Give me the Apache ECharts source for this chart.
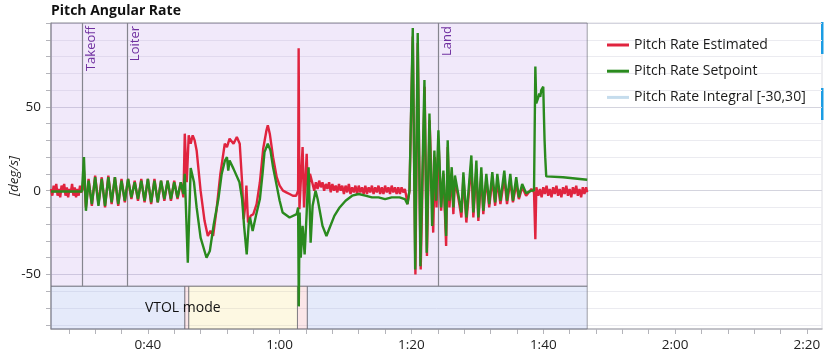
<!DOCTYPE html>
<html><head><meta charset="utf-8">
<script src="https://cdn.jsdelivr.net/npm/echarts@6/dist/echarts.min.js"></script>
<style>html,body{margin:0;padding:0;background:#fff}#c{width:827px;height:354px}</style>
</head><body><div id="c"></div>
<script>
const FONT = "'Open Sans', 'Noto Sans', sans-serif";
const titleText = 'Pitch Angular Rate';
const yAxisName = '[deg/s]';
const xRange = [25.3, 142.3];
const yRange = [-82.5, 100];
const xLabelTicks = [40, 60, 80, 100, 120, 140];
const xMinorTicks = [28,32,36,40,44,48,52,56,60,64,68,72,76,80,84,88,92,96,100,104,108,112,116,120,124,128,132,136,140];
const yLabelTicks = [-50, 0, 50];
const yGridTicks = [-80,-70,-60,-50,-40,-30,-20,-10,0,10,20,30,40,50,60,70,80,90,100];
const seriesNames = ['Pitch Rate Estimated', 'Pitch Rate Setpoint', 'Pitch Rate Integral [-30,30]'];
const eventNames = ['Takeoff', 'Loiter', 'Land'];
const eventTimes = [30.1, 36.8, 84.1];
const modeLabel = 'VTOL mode';
const modeStarts = [25.3, 45.6, 46.2, 62.7, 64.2];
const modeEnds = [45.6, 46.2, 62.7, 64.2, 106.67];
const modeKinds = ['mc', 'trans', 'fw', 'trans', 'mc'];
const bandTop = -57;
const dataEnd = 106.67;

const pitchEstimated = [
[25.3,1],[25.5,-3],[25.7,3],[25.9,-1],[26.1,4],[26.3,-3],[26.5,1],[26.7,-4],[26.9,3],[27.1,0],[27.3,4],[27.5,-3],[27.7,2],
[27.9,-4],[28.1,1],[28.3,-1],[28.5,4],[28.7,-3],[28.9,2],[29.1,-4],[29.3,1],[29.5,-3],[29.7,3],[29.9,-1],[30.1,1],
[30.3,12],[30.6,-10],[31.0,7],[31.5,-9],[32.0,9],[32.5,-8],[33.0,8],[33.5,-10],[34.0,9],[34.5,-8],[35.0,8],[35.5,-9],
[36.0,7],[36.5,-7],[37.0,7],[37.5,-5],[38.0,6],[38.5,-6],[39.0,7],[39.5,-7],[40.0,7],[40.5,-8],[41.0,7],[41.5,-7],
[42.0,6],[42.5,-6],[43.0,6],[43.5,-6],[44.0,6],[44.5,-5],[45.0,5],[45.4,-4],
[45.6,34],[45.9,5],[46.2,33],[46.5,28],[46.8,33],[47.1,30],[47.4,24],[48.0,0],[48.6,-18],[49.1,-27],[49.5,-24],[49.9,-27],
[50.4,-12],[51.0,10],[51.67,28],[52.0,26],[52.4,31],[53.0,28],[53.5,32],[53.94,28],[54.3,5],[54.55,-17],[54.8,-8],[54.95,3],
[55.2,-19],[55.6,-15],[56.0,-14],[56.5,-8],[57.0,5],[57.5,25],[58.0,36],[58.2,39],[58.5,34],[59.0,20],[59.55,8],[60.0,3],
[60.5,0],[61.0,-1],[61.5,-2],[62.0,-3],[62.5,-3],[62.8,0],[62.88,85],[63.0,-11],[63.2,5],[63.48,26],[63.7,-10],[64.1,22],
[64.3,-5],[64.6,10],
[65.0,4],[65.25,0],[65.5,5],[65.75,1],[66.0,6],[66.25,2],[66.5,5],[66.75,0],[67.0,4],[67.25,1],[67.5,5],[67.75,-1],[68.0,4],
[68.25,0],[68.5,3],[68.75,-1],[69.0,4],[69.25,0],[69.5,3],[69.75,-2],[70.0,3],[70.25,-1],[70.5,4],[70.75,-2],[71.0,2],
[71.25,-1],[71.5,3],[71.75,-2],[72.0,3],[72.25,-1],[72.5,2],[72.75,-2],[73.0,3],[73.25,-2],[73.5,2],[73.75,-1],[74.0,3],
[74.25,-2],[74.5,2],[74.75,-1],[75.0,3],[75.25,-2],[75.5,2],[75.75,-2],[76.0,3],[76.25,-1],[76.5,2],[76.75,-2],[77.0,3],
[77.25,-1],[77.5,2],[77.75,-2],[78.0,2],[78.25,-2],[78.5,2],[78.75,-1],[79.0,1],[79.2,-3],[79.4,-8],[79.7,0],
[80.2,92],[80.6,-50],[80.95,88],[81.4,-47],[82.0,62],[82.35,-39],[82.75,42],[83.3,-25],[83.55,20],[83.8,-10],[84.1,30],
[84.5,-12],[84.85,10],[85.26,-33],[85.5,26],[85.76,-10],[86.11,10],[86.36,-14],[86.6,6],[87.1,-4],[87.58,-16],[87.88,8],
[88.33,-19],[89.09,16],[89.39,-16],[89.85,13],[90.15,-18],[90.6,10],[90.9,-14],[91.36,7],[91.8,-10],[92.27,7],[92.7,-9],
[93.03,6],[93.5,-8],[94.09,7],[94.5,-8],[95.0,6],[95.4,-7],[95.9,4],[96.3,-5],[96.8,2],[97.4,-3],[98.2,1],[98.6,-1],
[98.8,-29],[98.95,2],[99.25,-3],[99.5,1],[99.75,-4],[100,2],[100.25,-2],[100.5,3],[100.75,-3],[101,1],[101.25,-4],
[101.5,2],[101.75,-2],[102,3],[102.25,-3],[102.5,1],[102.75,-4],[103,2],[103.25,-2],[103.5,3],[103.75,-3],[104,1],
[104.25,-4],[104.5,2],[104.75,-2],[105,3],[105.25,-3],[105.5,1],[105.75,-4],[106,2],[106.25,-2],[106.5,2],[106.67,-1]
];

const pitchSetpoint = [
[25.3,-0.5],[30.0,-0.5],[30.15,0],[30.3,20],[30.6,-12],[31.0,6],[31.5,-8],[32.0,8],[32.5,-9],[33.0,7],[33.5,-9],[34.0,8],
[34.5,-7],[35.0,8],[35.5,-8],[36.0,6],[36.5,-6],[37.0,7],[37.5,-4],[38.0,5],[38.5,-5],[39.0,6],[39.5,-6],[40.0,7],[40.5,-7],
[41.0,6],[41.5,-7],[42.0,6],[42.5,-5],[43.0,6],[43.5,-5],[44.0,5],[44.5,-4],[45.0,5],[45.4,-2],
[45.6,10],[46.06,-43],[46.5,13.5],[47.0,5],[47.4,-10],[48.0,-28],[48.9,-40],[49.4,-36],[50.0,-20],[50.7,-5],[51.2,10],
[51.7,18],[52.0,20],[52.2,12],[52.4,18],[53.0,13],[53.9,5],[54.3,-5],[54.6,-21],[55.0,-38],[55.3,-20],[55.5,-16],[55.9,-24],
[56.4,-15],[57.0,-5],[57.4,10],[57.7,23],[58.2,28],[58.6,24],[59.0,14],[59.55,3],[60.0,-6],[60.45,-13],[61.5,-16],[62.58,-14],
[62.8,-10],[62.9,-69],[63.03,-13],[63.2,-40],[63.48,-21],[63.79,-38],[64.09,-14],[64.39,14],[64.7,-31],[65.0,-9],[65.45,0],
[65.76,-5],[66.5,-21],[67.1,-27],[67.6,-22],[68.3,-15],[69.1,-10],[70,-6],[71,-3],[72,-2],[73,-3],[74,-4],[75,-4],[76,-5],
[77,-4],[78.2,-4],[79.0,-5],[79.4,-8],[79.7,0],
[80.2,97],[80.56,-47],[80.95,94],[81.36,-45],[81.97,66],[82.32,-37],[82.73,46],[83.14,-21],[83.48,24],[83.74,-6],[84.09,36],
[84.5,-10],[84.85,12],[85.26,-27],[85.5,30],[85.76,-6],[86.11,14],[86.36,-10],[86.6,9],[87.1,-2],[87.58,-13],[87.88,11],
[88.33,-16],[89.09,21],[89.39,-13],[89.85,18],[90.15,-16],[90.6,14],[90.9,-12],[91.36,10],[91.8,-8],[92.27,11],[92.7,-7],
[93.03,10],[93.5,-6],[94.09,12],[94.5,-6],[95.0,10],[95.4,-6],[95.9,8],[96.3,-4],[96.8,4],[97.4,-1.5],[98.2,0],[98.6,0],
[98.8,74],[98.94,52],[99.2,55],[99.39,58],[99.55,56],[99.7,60],[100.0,62],[100.1,45],[100.2,30],[100.3,20],[100.45,8.5],
[103,8],[106.67,6.5]
];

const pitchIntegral = [];

const modeColors = {
  mc: 'rgba(151,171,235,0.25)',
  trans: 'rgba(235,130,140,0.2)',
  fw: 'rgba(245,220,110,0.2)'
};

function fmtTime(v) {
  const m = Math.floor(v / 60), s = Math.round(v % 60);
  return m + ':' + String(s).padStart(2, '0');
}

const bandAreas = modeStarts.map((s, i) => [
  { coord: [s, yRange[0]], name: i === 1 ? modeLabel : '',
    itemStyle: { color: modeColors[modeKinds[i]] },
    label: { show: i === 1 } },
  { coord: [modeEnds[i], bandTop] }
]);

const flightArea = [[
  { coord: [pitchEstimated[0][0], bandTop], itemStyle: { color: 'rgba(185,145,230,0.2)' }, label: { show: false } },
  { coord: [dataEnd, yRange[1]] }
]];

const eventLines = eventNames.map((n, i) => [
  { coord: [eventTimes[i], bandTop], name: n },
  { coord: [eventTimes[i], yRange[1]] }
]);

const chart = echarts.init(document.getElementById('c'), null, { renderer: 'canvas' });
chart.setOption({
  animation: false,
  backgroundColor: '#fff',
  textStyle: { fontFamily: FONT },
  title: {
    text: titleText, left: 46, top: -1,
    textStyle: { fontFamily: FONT, fontSize: 14, fontWeight: 'bold', color: '#111' }
  },
  legend: {
    orient: 'vertical', left: 607, top: 38, padding: 0,
    icon: 'rect', itemWidth: 22, itemHeight: 3, itemGap: 12.2, itemTextGap: 6,
    textStyle: { fontFamily: FONT, fontSize: 14, color: '#1a1a1a' },
    data: seriesNames
  },
  grid: {
    left: 51, right: 5, top: 23, bottom: 25,
    outerBoundsMode: 'none', containLabel: false,
    show: true, borderColor: '#dcdce2', borderWidth: 1, backgroundColor: '#fff'
  },
  xAxis: {
    type: 'value', min: xRange[0], max: xRange[1],
    axisLine: { show: true, onZero: false, lineStyle: { color: '#b4b4ba', width: 1.5 } },
    axisTick: { show: true, length: 5, customValues: xMinorTicks, lineStyle: { color: '#b4b4ba' } },
    axisLabel: { customValues: xLabelTicks, formatter: fmtTime, margin: 9,
      fontFamily: FONT, fontSize: 13.5, color: '#222' },
    splitLine: { show: false }
  },
  yAxis: {
    type: 'value', min: yRange[0], max: yRange[1],
    name: yAxisName, nameLocation: 'middle', nameGap: 30, nameRotate: 90, nameMoveOverlap: false,
    nameTextStyle: { fontFamily: FONT, fontSize: 13.5, fontStyle: 'italic', color: '#222' },
    axisLine: { show: true, lineStyle: { color: '#b4b4ba', width: 1.5 } },
    axisTick: { show: true, length: 5, customValues: yGridTicks, lineStyle: { color: '#b4b4ba' } },
    axisLabel: { customValues: yLabelTicks, margin: 10, fontFamily: FONT, fontSize: 13.5, color: '#222' },
    splitLine: { show: true, lineStyle: { color: ['#ebebf0', '#ebebf0', '#ebebf0', '#d4d4de', '#ebebf0'], width: 1 } }
  },
  graphic: [
    { type: 'rect', left: 821, top: 22, shape: { width: 2.5, height: 32 }, style: { fill: '#1b9ce3' }, silent: true },
    { type: 'rect', left: 821, top: 88, shape: { width: 2.5, height: 32 }, style: { fill: '#1b9ce3' }, silent: true }
  ],
  series: [
    {
      name: seriesNames[0], type: 'line', data: pitchEstimated, showSymbol: false, sampling: 'none',
      color: '#e0243f', lineStyle: { width: 2.4, color: '#e0243f' }, z: 3,
      markArea: {
        silent: true,
        itemStyle: { borderColor: 'rgba(110,110,120,0.65)', borderWidth: 1 },
        label: { show: false, position: 'inside', fontFamily: FONT, fontSize: 14, color: '#111', offset: [-4, 0] },
        data: flightArea.concat(bandAreas)
      },
      markLine: {
        silent: true, symbol: ['none', 'none'], z: 2,
        lineStyle: { color: '#85858e', width: 1.2, type: 'solid' },
        label: { show: true, position: 'insideEndBottom', formatter: '{b}', distance: [3, 2],
          fontFamily: FONT, fontSize: 13, color: '#7030a0' },
        data: eventLines
      }
    },
    {
      name: seriesNames[1], type: 'line', data: pitchSetpoint, showSymbol: false, sampling: 'none',
      color: '#2a8a1e', lineStyle: { width: 2.4, color: '#2a8a1e' }, z: 4
    },
    {
      name: seriesNames[2], type: 'line', data: pitchIntegral, showSymbol: false,
      color: '#c5dced', lineStyle: { width: 2, color: '#c5dced' }, z: 2
    }
  ]
});
</script>
</body></html>
